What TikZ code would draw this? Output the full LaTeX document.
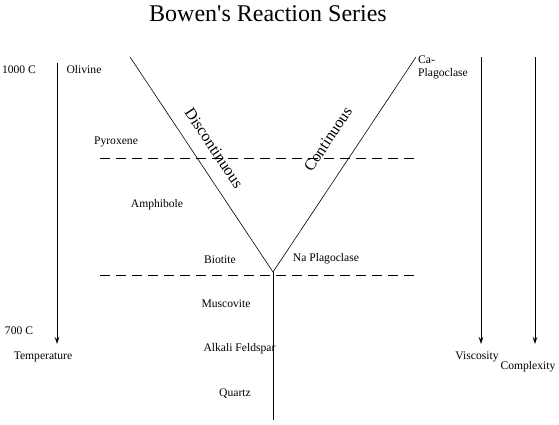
\documentclass[tikz,border=0pt]{standalone}
\usepackage{fontspec}
\setmainfont{Liberation Serif}
\usetikzlibrary{arrows.meta}
\begin{document}
\begin{tikzpicture}[x=1pt,y=-1pt,
  lbl/.style={inner sep=0pt,font=\fontsize{11.6}{13}\selectfont},
  side/.style={inner sep=0pt,font=\fontsize{16}{18}\selectfont},
  arr/.style={line width=0.8pt,-{Stealth[length=7pt,width=4.5pt]}},
  thinline/.style={line width=0.6pt},
  dashline/.style={line width=0.6pt,dash pattern=on 10pt off 6pt}]
\useasboundingbox (0,0) rectangle (559,424);
\node[inner sep=0pt,font=\fontsize{24}{28}\selectfont] (title) at (268,14) {Bowen\textquotesingle s Reaction Series};
% coordinates
\coordinate (tA) at (57,63);
\coordinate (tB) at (57,344);
\coordinate (vA) at (481,57);
\coordinate (vB) at (481,344);
\coordinate (cA) at (535,57);
\coordinate (cB) at (535,344);
\coordinate (dTop) at (130,57);
\coordinate (cTop) at (416,57);
\coordinate (apex) at (273,272);
\coordinate (bot) at (273,420);
\coordinate (d1a) at (100,158);
\coordinate (d1b) at (418,158);
\coordinate (d2a) at (100,275);
\coordinate (d2b) at (418,275);
% lines
\draw[arr] (tA) -- (tB);
\draw[arr] (vA) -- (vB);
\draw[arr] (cA) -- (cB);
\draw[thinline] (dTop) -- (apex) -- (cTop);
\draw[thinline] (apex) -- (bot);
\draw[dashline] (d1a) -- (d1b);
\draw[dashline] (d2a) -- (d2b);
% labels
\node[lbl] (t1000) at (19,70) {1000 C};
\node[lbl] (t700) at (19,331) {700 C};
\node[lbl] (temp) at (43,357) {Temperature};
\node[lbl] (visc) at (477,357) {Viscosity};
\node[lbl] (comp) at (528,367) {Complexity};
\node[lbl] (oliv) at (84,70) {Olivine};
\node[lbl] (pyro) at (116,142) {Pyroxene};
\node[lbl] (amph) at (157,205) {Amphibole};
\node[lbl] (biot) at (220,260) {Biotite};
\node[lbl] (napl) at (326,259) {Na Plagoclase};
\node[lbl] (musc) at (226,304) {Muscovite};
\node[lbl] (alka) at (239.5,349) {Alkali Feldspar};
\node[lbl] (quar) at (235,394) {Quartz};
\node[lbl,anchor=west,align=left] (capl) at (418,67) {Ca-\\Plagoclase};
\node[side,rotate=-56.4] (disc) at (214,148) {Discontinuous};
\node[side,rotate=56.4] (cont) at (328,139) {Continuous};
\end{tikzpicture}
\end{document}
